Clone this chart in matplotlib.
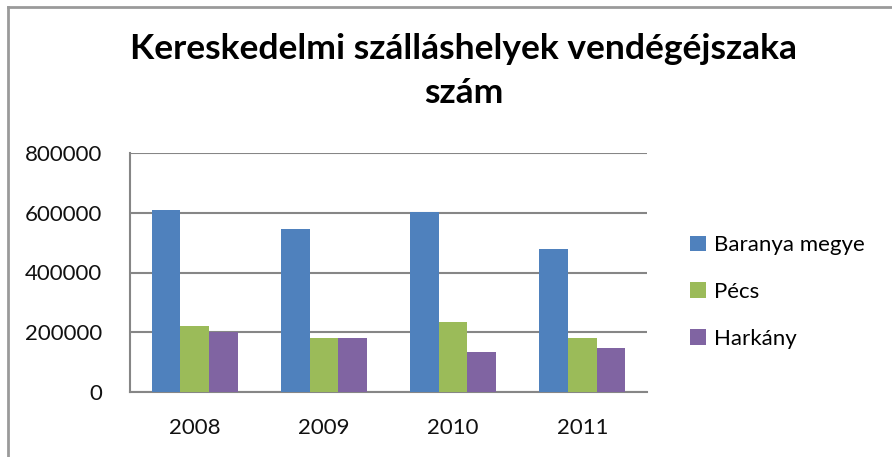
import matplotlib.pyplot as plt
import numpy as np
from matplotlib.lines import Line2D

years = ['2008', '2009', '2010', '2011']
baranya = [609000, 545000, 603000, 478000]
pecs = [222000, 182000, 235000, 182000]
harkany = [200000, 182000, 135000, 148000]

series = [('Baranya megye', baranya, '#4F81BD'),
          ('Pécs', pecs, '#9BBB59'),
          ('Harkány', harkany, '#8064A2')]

plt.rcParams['font.family'] = ['Lato', 'DejaVu Sans']

W, H = 892, 457
fig = plt.figure(figsize=(W / 100, H / 100), dpi=100)
ax = fig.add_axes([130 / W, 1 - 392 / H, 517 / W, 239 / H])

x = np.arange(len(years))
w = 0.222
for i, (name, vals, col) in enumerate(series):
    ax.bar(x + (i - 1) * w, vals, width=w, color=col, label=name, zorder=3)

ax.set_xlim(-0.5, len(years) - 0.5)
ax.set_ylim(0, 800000)
ax.set_yticks(range(0, 800001, 200000))
ax.set_yticklabels([str(v) for v in range(0, 800001, 200000)])
ax.set_xticks(x)
ax.set_xticklabels(years)
ax.tick_params(axis='both', length=0, labelsize=16, colors='#111111')
ax.tick_params(axis='y', pad=20)
ax.tick_params(axis='x', pad=19)

ax.yaxis.grid(True, color='#868686', linewidth=1.5, zorder=0)
for s in ['top', 'right']:
    ax.spines[s].set_visible(False)
for s in ['left', 'bottom']:
    ax.spines[s].set_color('#868686')
    ax.spines[s].set_linewidth(1.5)

fig.text(464 / W, 1 - 71 / H, 'Kereskedelmi szálláshelyek vendégéjszaka\nszám',
         ha='center', va='center', fontsize=25.5, fontweight='bold',
         linespacing=1.45)

ax.legend(loc='center left', bbox_to_anchor=(670 / W, 1 - 292 / H),
          bbox_transform=fig.transFigure, frameon=False, fontsize=16,
          handlelength=0.7, handleheight=0.7, handletextpad=0.4,
          labelspacing=1.2)

# outer chart frame
fig.add_artist(Line2D([8 / W, 8 / W], [0, 1 - 7 / H], transform=fig.transFigure,
                      color='#9a9a9a', linewidth=2))
fig.add_artist(Line2D([8 / W, 1], [1 - 7 / H, 1 - 7 / H], transform=fig.transFigure,
                      color='#9a9a9a', linewidth=2))

fig.savefig('out.png', dpi=100)
